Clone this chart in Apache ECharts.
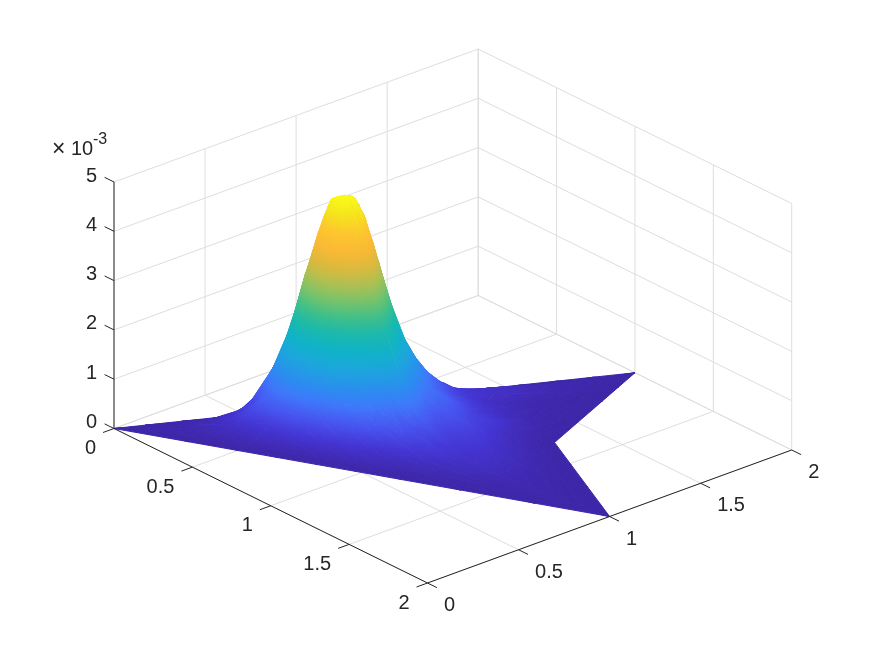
<!DOCTYPE html>
<html>
<head>
<meta charset="utf-8">
<title>surface</title>
<script src="https://cdn.jsdelivr.net/npm/echarts@6/dist/echarts.min.js"></script>
<style>
    html, body { margin: 0; padding: 0; background: #fff; }
    #chart { width: 875px; height: 656px; }
</style>
</head>
<body>
<div id="chart"></div>
<script>
    // tick values of the three axes (z is in units of 1e-3)
    const aTicks = [0, 0.5, 1, 1.5, 2];
    const bTicks = [0, 0.5, 1, 1.5, 2];
    const zTicks = [0, 1, 2, 3, 4, 5];
    const tickLabels = ['0', '0.5', '1', '1.5', '2'];

    // the mesh: peak position, rings between peak and outline, outline of the domain
    const peakA = 0.60;
    const peakB = 0.75;
    const peakZ = 4.65;
    const ringFractions = [0, 0.04, 0.08, 0.12, 0.16, 0.2, 0.24, 0.28, 0.32, 0.36, 0.4, 0.45, 0.5, 0.55, 0.6, 0.7, 0.8, 0.9, 1];
    const outlineA = [0, 0.30, 0.50, 0.66, 0.82, 0.98, 1.16, 1.40, 1.70, 2, 1.72, 1.51, 1.30, 1.21, 1.12, 1.06, 1, 0.92, 0.85, 0.78, 0.72, 0.62, 0.54, 0.47, 0.40, 0.33, 0.25, 0.19, 0.13, 0.06];
    const outlineB = [0, 0.15, 0.25, 0.33, 0.41, 0.49, 0.58, 0.70, 0.85, 1, 1.12, 1.21, 1.30, 1.51, 1.72, 1.86, 2, 1.84, 1.70, 1.56, 1.44, 1.24, 1.08, 0.94, 0.80, 0.66, 0.50, 0.38, 0.26, 0.12];

    // height read along each ray, ring 0.04 to ring 0.9 (peakZ at the centre, 0 on the outline)
    const rayHeights = [
        [4.60, 4.30, 3.65, 3.13, 2.49, 1.88, 1.40, 1.00, 0.69, 0.45, 0.30, 0.20, 0.13, 0.09, 0.05, 0.02, 0.01],
        [4.62, 4.49, 4.19, 3.75, 3.27, 2.77, 2.31, 1.89, 1.54, 1.26, 0.95, 0.79, 0.62, 0.48, 0.24, 0.10, 0.02],
        [4.63, 4.54, 4.38, 4.07, 3.71, 3.32, 2.90, 2.49, 2.10, 1.77, 1.37, 1.20, 0.98, 0.78, 0.39, 0.18, 0.045],
        [4.63, 4.56, 4.44, 4.23, 3.92, 3.57, 3.21, 2.84, 2.47, 2.10, 1.70, 1.49, 1.24, 1.01, 0.54, 0.24, 0.06],
        [4.63, 4.56, 4.45, 4.25, 3.97, 3.63, 3.29, 2.92, 2.55, 2.19, 1.78, 1.58, 1.30, 1.07, 0.58, 0.25, 0.06],
        [4.63, 4.55, 4.42, 4.18, 3.84, 3.47, 3.09, 2.70, 2.31, 1.96, 1.56, 1.35, 1.10, 0.92, 0.47, 0.21, 0.045],
        [4.63, 4.53, 4.32, 3.92, 3.51, 3.07, 2.62, 2.20, 1.82, 1.48, 1.16, 0.98, 0.80, 0.62, 0.32, 0.13, 0.03],
        [4.61, 4.43, 3.98, 3.46, 2.90, 2.36, 1.88, 1.53, 1.21, 0.97, 0.71, 0.60, 0.47, 0.36, 0.20, 0.08, 0.02],
        [4.59, 4.16, 3.49, 2.74, 2.09, 1.62, 1.23, 0.93, 0.71, 0.54, 0.39, 0.33, 0.26, 0.20, 0.09, 0.03, 0.01],
        [4.52, 3.80, 2.89, 2.07, 1.51, 1.09, 0.79, 0.59, 0.44, 0.34, 0.24, 0.20, 0.16, 0.11, 0.05, 0.02, 0],
        [4.58, 4.08, 3.33, 2.56, 1.93, 1.47, 1.11, 0.83, 0.63, 0.50, 0.42, 0.38, 0.32, 0.25, 0.13, 0.05, 0.01],
        [4.59, 4.23, 3.63, 2.93, 2.30, 1.78, 1.39, 1.08, 0.85, 0.72, 0.62, 0.55, 0.45, 0.36, 0.20, 0.09, 0.02],
        [4.61, 4.38, 3.84, 3.26, 2.63, 2.09, 1.67, 1.35, 1.10, 0.92, 0.80, 0.68, 0.55, 0.44, 0.33, 0.15, 0.04],
        [4.59, 4.28, 3.70, 3.04, 2.42, 1.86, 1.48, 1.14, 0.89, 0.72, 0.58, 0.46, 0.36, 0.27, 0.13, 0.05, 0.01],
        [4.59, 4.14, 3.42, 2.60, 2.00, 1.52, 1.18, 0.92, 0.71, 0.54, 0.38, 0.29, 0.20, 0.14, 0.06, 0.02, 0],
        [4.45, 3.91, 3.20, 2.41, 1.59, 1.09, 0.80, 0.64, 0.55, 0.42, 0.30, 0.26, 0.22, 0.18, 0.10, 0.04, 0.01],
        [4.44, 3.78, 3.03, 1.96, 1.37, 0.96, 0.65, 0.57, 0.39, 0.26, 0.24, 0.22, 0.19, 0.15, 0.08, 0.03, 0.01],
        [4.46, 3.98, 3.37, 2.72, 1.78, 1.25, 0.95, 0.68, 0.56, 0.46, 0.27, 0.22, 0.20, 0.16, 0.09, 0.03, 0.01],
        [4.50, 4.17, 3.66, 3.16, 2.40, 1.69, 1.27, 0.95, 0.67, 0.58, 0.47, 0.30, 0.24, 0.18, 0.09, 0.03, 0.01],
        [4.61, 4.42, 3.93, 3.39, 2.80, 2.26, 1.81, 1.45, 1.14, 0.90, 0.67, 0.48, 0.35, 0.25, 0.12, 0.04, 0.01],
        [4.62, 4.48, 4.14, 3.67, 3.19, 2.67, 2.21, 1.78, 1.46, 1.19, 0.89, 0.66, 0.48, 0.35, 0.16, 0.06, 0.01],
        [4.63, 4.54, 4.39, 4.12, 3.76, 3.37, 2.98, 2.57, 2.19, 1.84, 1.44, 1.13, 0.86, 0.64, 0.31, 0.12, 0.03],
        [4.63, 4.57, 4.47, 4.32, 4.12, 3.84, 3.51, 3.18, 2.85, 2.51, 2.09, 1.69, 1.35, 1.04, 0.55, 0.23, 0.05],
        [4.64, 4.58, 4.50, 4.37, 4.23, 4.04, 3.82, 3.55, 3.25, 2.94, 2.54, 2.17, 1.78, 1.43, 0.81, 0.36, 0.09],
        [4.64, 4.58, 4.50, 4.38, 4.24, 4.07, 3.85, 3.61, 3.34, 3.03, 2.63, 2.26, 1.88, 1.53, 0.88, 0.40, 0.10],
        [4.64, 4.58, 4.49, 4.36, 4.18, 3.96, 3.67, 3.36, 3.04, 2.72, 2.32, 1.92, 1.55, 1.21, 0.66, 0.28, 0.07],
        [4.63, 4.56, 4.44, 4.23, 3.91, 3.56, 3.20, 2.81, 2.44, 2.08, 1.68, 1.32, 1.01, 0.77, 0.39, 0.16, 0.04],
        [4.63, 4.54, 4.35, 3.99, 3.60, 3.20, 2.75, 2.33, 1.96, 1.60, 1.25, 0.97, 0.72, 0.53, 0.26, 0.10, 0.02],
        [4.62, 4.58, 4.27, 3.90, 3.41, 3.05, 2.52, 2.06, 1.67, 1.37, 1.07, 0.70, 0.45, 0.30, 0.15, 0.07, 0.02],
        [4.62, 4.45, 4.00, 3.50, 3.00, 2.42, 1.87, 1.44, 1.15, 0.70, 0.50, 0.30, 0.20, 0.14, 0.08, 0.03, 0.01]
    ];

    // parula
    const colorStops = [
        [0, 62, 38, 168], [0.067, 68, 53, 212], [0.133, 71, 85, 240], [0.2, 63, 120, 251],
        [0.25, 44, 139, 241], [0.33, 29, 165, 221], [0.4, 15, 179, 200], [0.47, 27, 185, 172],
        [0.53, 60, 191, 139], [0.6, 120, 195, 106], [0.67, 179, 191, 80], [0.73, 220, 185, 61],
        [0.8, 251, 185, 52], [0.87, 253, 198, 47], [0.93, 245, 224, 31], [1, 249, 251, 21]
    ];

    // orthographic view: where the box origin sits and what one unit of each axis moves on screen
    const originX = 114, originY = 428.5;
    const aStep = [156.75, 77.25], bStep = [182.1, -66.5], zStep = [0, -49.3];

    function project(a, b, z) {
        return [originX + a * aStep[0] + b * bStep[0] + z * zStep[0],
                originY + a * aStep[1] + b * bStep[1] + z * zStep[1]];
    }

    function colorOf(z) {
        const t = Math.max(0, Math.min(1, z / peakZ));
        let i = 0;
        while (i < colorStops.length - 2 && t > colorStops[i + 1][0]) i++;
        const p = colorStops[i], q = colorStops[i + 1];
        const k = (t - p[0]) / (q[0] - p[0]);
        const mix = n => Math.round(p[n] + (q[n] - p[n]) * k);
        return 'rgb(' + mix(1) + ',' + mix(2) + ',' + mix(3) + ')';
    }

    function meshPoint(ring, ray) {
        const f = ringFractions[ring];
        let z = 0;
        if (ring === 0) z = peakZ;
        else if (ring < ringFractions.length - 1) z = rayHeights[ray][ring - 1];
        return [peakA + f * (outlineA[ray] - peakA), peakB + f * (outlineB[ray] - peakB), z];
    }

    // triangles of the surface, far ones first
    const triangles = [];
    function addTriangle(pts) {
        let depth = 0;
        pts.forEach(p => { depth += p[0] - 0.8608 * p[1] + 0.5457 * p[2] / 5; });
        triangles.push({ pts, depth });
    }
    for (let ring = 0; ring < ringFractions.length - 1; ring++) {
        for (let ray = 0; ray < outlineA.length; ray++) {
            const next = (ray + 1) % outlineA.length;
            const p0 = meshPoint(ring, ray), p1 = meshPoint(ring, next);
            const p2 = meshPoint(ring + 1, next), p3 = meshPoint(ring + 1, ray);
            if (ring > 0) addTriangle([p0, p1, p2]);
            addTriangle([p0, p2, p3]);
        }
    }
    triangles.sort((m, n) => m.depth - n.depth);

    // a linear gradient that gives each corner of the triangle its own height colour
    function triangleFill(screen, pts) {
        const x1 = screen[1][0] - screen[0][0], y1 = screen[1][1] - screen[0][1];
        const x2 = screen[2][0] - screen[0][0], y2 = screen[2][1] - screen[0][1];
        const v1 = pts[1][2] - pts[0][2], v2 = pts[2][2] - pts[0][2];
        const det = x1 * y2 - x2 * y1;
        const zs = pts.map(p => p[2]);
        const low = Math.min(zs[0], zs[1], zs[2]), high = Math.max(zs[0], zs[1], zs[2]);
        if (Math.abs(det) < 0.01 || high - low < 1e-6) return colorOf((zs[0] + zs[1] + zs[2]) / 3);
        const gx = (v1 * y2 - v2 * y1) / det, gy = (x1 * v2 - x2 * v1) / det;
        const g2 = gx * gx + gy * gy;
        const start = screen[zs.indexOf(low)];
        const endX = start[0] + gx / g2 * (high - low), endY = start[1] + gy / g2 * (high - low);
        const stops = [0, 0.25, 0.5, 0.75, 1].map(o => ({ offset: o, color: colorOf(low + (high - low) * o) }));
        return new echarts.graphic.LinearGradient(start[0], start[1], endX, endY, stops, true);
    }

    // grid lines on the floor and on the two back walls
    const gridSegments = [];
    aTicks.forEach(a => {
        gridSegments.push([a, 0, 0, a, 2, 0]);
        gridSegments.push([a, 2, 0, a, 2, 5]);
    });
    bTicks.forEach(b => {
        gridSegments.push([0, b, 0, 2, b, 0]);
        gridSegments.push([0, b, 0, 0, b, 5]);
    });
    zTicks.forEach(z => {
        gridSegments.push([0, 0, z, 0, 2, z]);
        gridSegments.push([0, 2, z, 2, 2, z]);
    });

    // axis lines and tick marks
    const axisSegments = [[0, 0, 0, 2, 0, 0], [2, 0, 0, 2, 2, 0], [0, 0, 0, 0, 0, 5]];
    aTicks.forEach(a => axisSegments.push([a, 0, 0, a, -0.06, 0]));
    bTicks.forEach(b => axisSegments.push([2, b, 0, 2.06, b, 0]));
    zTicks.forEach(z => axisSegments.push([0, 0, z, -0.06, 0, z]));

    const tickTexts = [];
    aTicks.forEach((a, i) => tickTexts.push({ pos: [a, 0, 0], text: tickLabels[i], dx: -18, dy: 20, align: 'right' }));
    bTicks.forEach((b, i) => tickTexts.push({ pos: [2, b, 0], text: tickLabels[i], dx: 16.5, dy: 22.5, align: 'left' }));
    zTicks.forEach(z => tickTexts.push({ pos: [0, 0, z], text: String(z), dx: -17, dy: -6, align: 'right' }));

    function segmentSeries(segments, color, width, z) {
        return {
            type: 'custom',
            silent: true,
            z,
            clip: false,
            encode: { x: 0, y: 0 },
            data: segments.map((s, i) => i),
            renderItem(params, api) {
                const s = segments[params.dataIndex];
                const p = api.coord(project(s[0], s[1], s[2]));
                const q = api.coord(project(s[3], s[4], s[5]));
                return {
                    type: 'line',
                    shape: { x1: p[0], y1: p[1], x2: q[0], y2: q[1] },
                    style: { stroke: color, lineWidth: width, fill: null }
                };
            }
        };
    }

    const chart = echarts.init(document.getElementById('chart'));
    chart.setOption({
        animation: false,
        backgroundColor: '#ffffff',
        grid: { left: 0, right: 0, top: 0, bottom: 0 },
        xAxis: { type: 'value', min: 0, max: 875, show: false },
        yAxis: { type: 'value', min: 0, max: 656, inverse: true, show: false },
        graphic: [
            { type: 'text', left: 52, top: 138, silent: true, style: { text: '×', font: '23px "Liberation Sans"', fill: '#262626' } },
            { type: 'text', left: 71, top: 139, silent: true, style: { text: '10', font: '20px "Liberation Sans"', fill: '#262626' } },
            { type: 'text', left: 93, top: 132, silent: true, style: { text: '-3', font: '16px "Liberation Sans"', fill: '#262626' } }
        ],
        series: [
            segmentSeries(gridSegments, '#dedede', 1, 1),
            {
                type: 'custom',
                silent: true,
                z: 2,
                clip: false,
                encode: { x: 0, y: 0 },
                data: triangles.map((t, i) => i),
                renderItem(params, api) {
                    const pts = triangles[params.dataIndex].pts;
                    const screen = pts.map(p => api.coord(project(p[0], p[1], p[2])));
                    const fill = triangleFill(screen, pts);
                    return {
                        type: 'polygon',
                        shape: { points: screen },
                        style: { fill, stroke: fill, lineWidth: 1, lineJoin: 'round' }
                    };
                }
            },
            segmentSeries(axisSegments, '#262626', 1, 3),
            {
                type: 'custom',
                silent: true,
                z: 4,
                clip: false,
                encode: { x: 0, y: 0 },
                data: tickTexts.map((t, i) => i),
                renderItem(params, api) {
                    const t = tickTexts[params.dataIndex];
                    const p = api.coord(project(t.pos[0], t.pos[1], t.pos[2]));
                    return {
                        type: 'text',
                        style: {
                            x: p[0] + t.dx,
                            y: p[1] + t.dy,
                            text: t.text,
                            font: '20px "Liberation Sans"',
                            fill: '#262626',
                            align: t.align,
                            verticalAlign: 'middle'
                        }
                    };
                }
            }
        ]
    });
</script>
</body>
</html>
